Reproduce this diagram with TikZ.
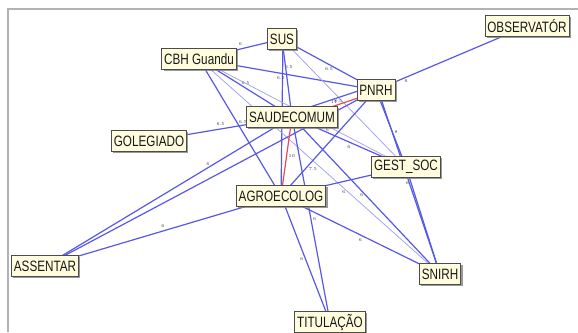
\documentclass[tikz,border=0pt]{standalone}
\usepackage{fontspec}
\newfontfamily\nodefont[FakeStretch=0.78]{Liberation Sans}
\usetikzlibrary{shadows}
\definecolor{edgeblue}{RGB}{88,88,232}
\definecolor{lightblue}{RGB}{165,165,242}
\definecolor{edgered}{RGB}{232,72,86}
\definecolor{nodefill}{RGB}{255,253,222}
\definecolor{framegray}{RGB}{178,178,178}
\pgfdeclarelayer{bg}
\pgfsetlayers{bg,main}
\begin{document}
\begin{tikzpicture}[x=1pt,y=-1pt,
  vnode/.style={draw=black!70, line width=0.6pt, fill=nodefill,
    font=\nodefont\fontsize{15}{15}\selectfont, text=black!90,
    inner xsep=2.5pt, inner ysep=0pt, minimum height=21pt,
    drop shadow={shadow xshift=1.8pt, shadow yshift=-1.8pt, fill=black!50, opacity=0.8}},
  tie/.style={draw=edgeblue, line width=1.2pt},
  faint/.style={draw=lightblue, line width=0.8pt},
  hot/.style={draw=edgered, line width=1.2pt},
  wt/.style={font=\fontsize{4.5}{5}\selectfont, text=black!80, inner sep=0.6pt}
]
\useasboundingbox (0,0) rectangle (578,332);
\draw[framegray, line width=1.3pt] (8,332) -- (8,9) -- (578,9);

\node[vnode] (OBS)    at (527,26)  {OBSERVATÓR};
\node[vnode] (SUS)    at (282,39)  {SUS};
\node[vnode] (CBH)    at (199,59)  {CBH Guandu};
\node[vnode] (PNRH)   at (376,90)  {PNRH};
\node[vnode] (SAUDE)  at (292,117) {SAUDECOMUM};
\node[vnode] (GOLE)   at (149,141) {GOLEGIADO};
\node[vnode] (GEST)   at (406,167) {GEST\_SOC};
\node[vnode] (AGRO)   at (281,196) {AGROECOLOG};
\node[vnode] (ASSENT) at (45,266)  {ASSENTAR};
\node[vnode] (SNIRH)  at (440,274) {SNIRH};
\node[vnode] (TITUL)  at (330,322) {TITULAÇÃO};

\begin{pgfonlayer}{bg}
\draw[tie] (PNRH.center) -- (OBS.center) node[wt, pos=0.2, below=1pt] {6};
\draw[tie] (CBH.center) -- (SUS.center) node[wt, pos=0.5, above=2pt] {6};
\draw[tie] (SUS.center) -- (PNRH.center) node[wt, pos=0.5, below=2pt] {6.5};
\draw[tie] (CBH.center) -- (PNRH.center);
\draw[tie] ([xshift=1pt]SUS.center) -- (AGRO.center) node[wt, pos=0.18, right=1pt] {6.5};
\draw[tie] (SUS.center) -- (SAUDE.center) node[wt, pos=0.5, left=1pt] {6.5};
\draw[faint] (SUS.center) -- (GEST.center);
\draw[tie] (CBH.center) -- (SAUDE.center) node[wt, pos=0.5, above=2pt] {6.5};
\draw[tie] (CBH.center) -- (AGRO.center) node[wt, pos=0.46, right=1pt] {6.5};
\draw[faint] (CBH.center) -- (GEST.center) node[wt, pos=0.62, below=2pt] {6};
\draw[faint] (CBH.center) -- (SNIRH.center) node[wt, pos=0.6, below=1pt] {6};
\draw[tie] (GOLE.center) -- (SAUDE.center) node[wt, pos=0.5, above=2pt] {6.5};
\draw[tie] (ASSENT.center) -- (SAUDE.center) node[wt, pos=0.66, above=1pt] {6};
\draw[tie] (ASSENT.center) -- (PNRH.center);
\draw[tie] (ASSENT.center) -- (AGRO.center) node[wt, pos=0.5, above=2pt] {6};
\draw[hot] ([yshift=-3pt]SAUDE.center) -- ([yshift=-2pt]PNRH.center) node[wt, pos=0.5, above=1pt] {11};
\draw[tie] ([yshift=4pt]SAUDE.center) -- ([yshift=5pt]PNRH.center) node[wt, pos=0.55, below=1pt] {8.5};
\draw[hot] (SAUDE.center) -- (AGRO.center) node[wt, pos=0.5, right=1pt] {10};
\draw[tie] (AGRO.center) -- (PNRH.center) node[wt, pos=0.25, right=3pt] {7.5};
\draw[tie] (AGRO.center) -- (GEST.center);
\draw[tie] (SAUDE.center) -- (GEST.center) node[wt, pos=0.5, below=2pt] {6};
\draw[tie] (PNRH.center) -- (GEST.center) node[wt, pos=0.55, right=1pt] {8};
\draw[tie] ([xshift=2pt]PNRH.center) -- (SNIRH.center);
\draw[tie] (GEST.center) -- (SNIRH.center) node[wt, pos=0.15, left=1pt] {6};
\draw[tie] (AGRO.center) -- (SNIRH.center) node[wt, pos=0.5, below=2pt] {6};
\draw[tie] (SAUDE.center) -- (SNIRH.center) node[wt, pos=0.47, below=2pt] {6};
\draw[tie] (AGRO.center) -- (TITUL.center) node[wt, pos=0.5, left=1pt] {6};
\draw[tie] (SAUDE.center) -- (TITUL.center) node[wt, pos=0.5, right=1pt] {6};
\end{pgfonlayer}
\end{tikzpicture}
\end{document}
